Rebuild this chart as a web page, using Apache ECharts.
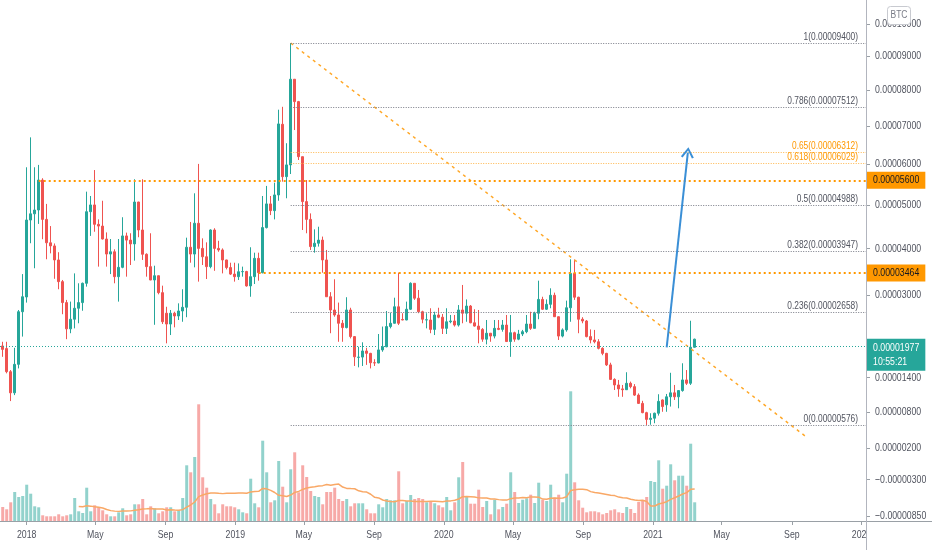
<!DOCTYPE html>
<html><head><meta charset="utf-8">
<script src="https://cdn.jsdelivr.net/npm/echarts@6/dist/echarts.min.js"></script>
<style>html,body{margin:0;padding:0;background:#fff}#c{width:932px;height:550px}</style>
</head><body><div id="c"></div>
<script>
// Weekly candles, prices in satoshi (1e-8 BTC)
const firstWeek = '2017-11-20';
const open = [1990,1940,1510,1130,1645,2660,2960,4645,4790,4880,
5605,4660,4125,4055,3745,3280,2845,2320,2510,2730,
2845,3245,4840,5000,4545,4505,4210,3875,3925,3385,
3585,4280,4185,4100,5070,4415,3870,3600,3315,3405,
3050,2630,2415,2630,2575,2675,2750,4025,3875,4570,
4000,3815,3600,4415,4000,3965,3745,3580,3440,3385,
3490,3495,3190,3385,3780,3470,4470,5025,4865,5240,
7050,5690,5985,8315,7675,6195,5080,4660,4040,4115,
4185,3745,2965,2695,2595,2430,2345,2695,2170,1775,
1780,1895,1850,1675,1670,1915,1975,2365,2430,2760,
2505,2495,2710,3245,2935,2660,2495,2495,2310,2595,
2550,2330,2460,2475,2395,2695,2630,2775,2440,2375,
2310,2120,2235,2180,2330,2310,2395,2075,2245,2120,
2220,2265,2415,2330,2630,2910,2710,2810,2995,2560,
2180,2300,2740,3455,2955,2510,2475,2170,2105,2070,
1945,1850,1635,1370,1270,1200,1185,1300,1240,1090,
945,785,670,690,775,1005,920,1060,1130,1060,
1170,1360,1300,1965];
const close = [1925,1510,1130,1645,2660,2965,4645,4790,4880,5605,
4660,4125,4055,3745,3280,2845,2320,2510,2730,2845,
3245,4840,5000,4545,4505,4210,3875,3925,3385,3585,
4280,4185,4100,5070,4415,3870,3600,3315,3405,3050,
2460,2415,2630,2575,2675,2750,4025,3875,4570,4000,
3815,3600,4415,4000,3965,3745,3580,3440,3385,3490,
3495,3190,3385,3780,3470,4470,5025,4865,5240,7060,
5690,5985,8315,7675,6195,5080,4660,4040,4115,4185,
3745,2965,2695,2595,2430,2345,2695,2170,1785,1780,
1895,1850,1675,1670,1915,1975,2365,2430,2760,2430,
2495,2710,3245,2935,2660,2510,2500,2310,2595,2550,
2330,2460,2475,2395,2695,2630,2775,2440,2375,2310,
2120,2235,2180,2330,2310,2395,2075,2245,2120,2220,
2265,2415,2330,2630,2910,2710,2810,2995,2560,2180,
2300,2740,3455,2955,2510,2475,2170,2105,2070,1945,
1850,1635,1370,1270,1200,1185,1300,1240,1090,945,
785,670,690,775,980,890,1060,1130,1060,1170,
1360,1300,1965,2120];
const low = [1785,1480,985,1090,1570,2170,2845,4115,3565,4555,
4205,3760,3890,3340,3120,2610,2120,2235,2330,2430,
2680,3175,4280,4375,3600,4200,3600,3440,3245,2865,
3565,3385,3635,3730,4250,3745,3385,3310,2400,3015,
2415,2040,2200,2350,2495,2460,2550,3685,3585,3280,
3635,3335,3565,3510,3925,3455,3540,3420,3280,3315,
3385,3175,2965,3230,3300,3455,4450,4760,4660,5100,
5565,5160,5755,6895,6110,4415,4340,3965,3905,4040,
3470,2960,2235,2560,2070,2070,2330,2135,1615,1590,
1615,1635,1570,1615,1665,1880,1965,2330,2425,2395,
2490,2490,2695,2900,2630,2430,2330,2235,2200,2530,
2220,2220,2430,2365,2365,2430,2460,2430,2365,2040,
2070,2020,2070,2135,2295,2265,2065,1785,2070,2100,
2180,2235,2300,2330,2510,2695,2695,2730,2555,2105,
2155,2265,2460,2900,2235,2430,2155,2040,2040,1925,
1815,1615,1360,1180,1060,1060,1180,1210,1075,935,
775,576,580,605,735,800,800,890,1005,860,
1150,1270,1270,1960];
const high = [2070,2070,1540,1955,2695,3440,5925,6700,5925,5985,
5650,5025,4505,4110,3915,3315,2900,2865,3455,3245,
3260,5320,5215,5855,4660,5100,4360,4210,3980,4210,
4710,4355,4340,5625,5075,5625,3890,4340,3620,3410,
3195,2760,2695,2660,2830,3120,4240,4600,5280,6010,
4225,4135,4430,4455,4170,4000,3750,3685,3685,3670,
3600,3510,4025,3905,3905,5215,5460,5215,5540,7450,
7530,6545,9400,8320,7695,6195,5605,4800,4430,4490,
4265,3965,3060,3330,2845,2495,2955,2740,2180,1975,
2060,1955,1860,1740,2220,2365,2675,2640,2945,3470,
2630,2865,3265,3250,3105,2680,2630,2730,2660,2740,
2615,2730,2595,2595,2795,3210,2910,2795,2710,2695,
2335,2495,2240,2495,2495,2495,2595,2595,2265,2300,
2300,2595,2660,2660,3300,2965,2910,3140,3050,2565,
2330,2885,3760,3755,2965,2550,2495,2310,2300,2120,
1965,1860,1675,1390,1360,1270,1500,1330,1285,1120,
990,800,775,785,1105,1015,1110,1490,1270,1180,
1665,1540,2480,2130];
// weekly volume (relative units)
const volume = [14,11.7,18.7,29,24,25,36.3,27.3,14.7,13.7,
5.7,4.7,4.7,4.7,6.7,4.7,5.7,6.7,23,9.7,
8,33.3,9.7,15.7,14,10.7,6.7,4.7,4.7,8.7,
12.7,5.7,6.7,16.7,16.7,22,6.7,14.7,12.7,7.7,
9.7,13.7,13.7,9.7,10.7,23,55.7,48.7,64,116.7,
43.7,33.3,22,16.7,7.7,16.7,14.7,14.7,13.7,11.7,
8.7,7.7,42.3,17.7,13.7,80.3,48.7,18.7,20.7,60,
34.3,18.7,51.7,68.7,28.7,55.7,44,30,25,24,
16.7,29,29,33.3,22,20,22,14.7,17.7,17.7,
17.7,11.7,7.7,7.7,16.7,13.7,22,20.7,20.7,49.7,
17.7,20,26,22,23,22,18.7,20,17.7,15.7,
13.7,24,10.7,18.7,43.7,59,24,17.3,17.3,31.3,
14,20,6.7,21.3,11.7,14,17.3,48.7,29,18,
21.3,22.7,26.3,18,38.3,21.3,20,36.3,23.3,26.3,
18.7,47.3,129.7,38.7,20.7,13.3,8.7,9.7,9.7,8.7,
6.7,8,10.7,11.7,8.7,8,14,12,8,19,
20,24,40,39,60.7,32.3,35.3,56.7,40.7,45.3,
45.3,35.3,77.3,18.7];
const priceTicks = [10000,9000,8000,7000,6000,5000,4000,3000,1400,800,200,-300,-850];
const xTicks = ['2018-01-01','2018-05-01','2018-09-01','2019-01-01','2019-05-01','2019-09-01',
  '2020-01-01','2020-05-01','2020-09-01','2021-01-01','2021-05-01','2021-09-01','2022-01-01'];
const xTickLabels = ['2018','May','Sep','2019','May','Sep','2020','May','Sep','2021','May','Sep','2022'];
const fibStart = '2019-04-08';
const fibLevels = [1, 0.786, 0.65, 0.618, 0.5, 0.382, 0.236, 0];
const fibPrices = [9400, 7512, 6312, 6029, 4988, 3947, 2658, 576];
const levelPrices = [5600, 3464];
const levelStarts = ['2018-01-22', '2019-02-11'];
const lastPrice = 1977;
const countdown = '10:55:21';
const trendLine = [['2019-04-08', 9400], ['2021-09-29', 358]];
const arrowLine = [['2021-01-25', 1964], ['2021-03-03', 6300]];

// price scale used by the reference (shifted logarithmic)
const C = 10000;
const T = p => Math.log(p + C);
const DAY = 86400000;
const toT = s => Date.parse(s + 'T00:00:00Z');
const t0 = toT(firstWeek);
const times = open.map((_, i) => t0 + i * 7 * DAY);
const xMin = Date.UTC(2017, 10, 15, 6), xMax = Date.UTC(2022, 0, 8, 19);
const yMin = -920, yMax = 10771;
const FONT = "'Liberation Sans','Roboto',sans-serif";
const SX = 0.76; // narrow text like the reference
const fmt = p => (p < 0 ? '\u2212' : '') + (Math.abs(p) / 1e8).toFixed(8);

const UP = '#26a69a', DOWN = '#ef5350';
const candles = times.map((t, i) => [t, T(open[i]), T(close[i]), T(low[i]), T(high[i])]);
const vols = times.map((t, i) => ({value: [t, volume[i]], itemStyle: {color: close[i] >= open[i] ? '#92d2cc' : '#f7a9a7'}}));
const ma = [];
for (let i = 19; i < volume.length; i++) {
  let s = 0; for (let j = i - 19; j <= i; j++) s += volume[j];
  ma.push([times[i], s / 20]);
}

const marks = [];
fibLevels.forEach((lv, i) => {
  const orange = (lv === 0.65 || lv === 0.618);
  marks.push([{coord: [toT(fibStart), T(fibPrices[i])],
    lineStyle: {color: orange ? '#ffb74d' : '#787b86', width: 1, type: [1, 1.5]}},
    {coord: [xMax, T(fibPrices[i])]}]);
});
levelPrices.forEach((p, i) => {
  marks.push([{coord: [toT(levelStarts[i]), T(p)],
    lineStyle: {color: '#ff9800', width: 2, type: [2, 3]}},
    {coord: [xMax, T(p)]}]);
});
marks.push([{coord: [xMin, T(lastPrice)], lineStyle: {color: UP, width: 1, type: [1, 2]}},
  {coord: [xMax, T(lastPrice)]}]);

const chart = echarts.init(document.getElementById('c'), null, {renderer: 'canvas'});
const gridOpt = {left: 0, right: 66, top: 0, bottom: 29, outerBoundsMode: 'none', containLabel: false};
chart.setOption({
  animation: false,
  backgroundColor: '#fff',
  grid: [Object.assign({}, gridOpt), Object.assign({}, gridOpt)],
  xAxis: [{
    type: 'value', min: xMin, max: xMax, gridIndex: 0, scale: true,
    axisLine: {show: false}, splitLine: {show: false},
    axisTick: {show: true, length: 4, lineStyle: {color: '#9aa0a6'}, customValues: xTicks.map(toT)},
    axisLabel: {show: false}
  }, {
    type: 'value', min: xMin, max: xMax, gridIndex: 1, show: false, scale: true
  }],
  yAxis: [{
    type: 'value', position: 'right', min: T(yMin), max: T(yMax), gridIndex: 0, scale: true,
    axisLine: {show: false}, splitLine: {show: false},
    axisTick: {show: true, length: 4, lineStyle: {color: '#9aa0a6'}, customValues: priceTicks.map(T)},
    axisLabel: {show: false}
  }, {
    type: 'value', min: 0, max: 521, gridIndex: 1, show: false
  }],
  series: [{
    type: 'bar', xAxisIndex: 1, yAxisIndex: 1, data: vols, barWidth: 3, silent: true, z: 1
  }, {
    type: 'line', xAxisIndex: 1, yAxisIndex: 1, data: ma, showSymbol: false, silent: true, z: 2,
    lineStyle: {color: '#f9a866', width: 1.5}
  }, {
    type: 'candlestick', xAxisIndex: 0, yAxisIndex: 0, data: candles, barWidth: 2, silent: true, z: 3,
    itemStyle: {color: UP, color0: DOWN, borderColor: UP, borderColor0: DOWN, borderWidth: 1},
    markLine: {symbol: ['none', 'none'], silent: true, animation: false, label: {show: false}, data: marks}
  }, {
    type: 'line', xAxisIndex: 0, yAxisIndex: 0, silent: true, z: 4, showSymbol: false,
    data: trendLine.map(d => [toT(d[0]), T(d[1])]),
    lineStyle: {color: '#ffa726', width: 1.5, type: [3, 4]},
    markLine: {silent: true, animation: false,
      symbol: ['none', 'path://M0,9 L5,0 L10,9 L8.6,10 L5,3 L1.4,10 Z'], symbolSize: [13, 11],
      label: {show: false},
      lineStyle: {color: '#3a8fd6', width: 2, type: 'solid'},
      data: [[{coord: [toT(arrowLine[0][0]), T(arrowLine[0][1])]}, {coord: [toT(arrowLine[1][0]), T(arrowLine[1][1])]}]]}
  }]
});

// Text labels placed through the chart's own scales
const axisX = chart.convertToPixel({xAxisIndex: 0}, xMax);
const baseY = chart.convertToPixel({yAxisIndex: 0}, T(yMin));
const yPx = p => chart.convertToPixel({yAxisIndex: 0}, T(p));
const xPx = t => chart.convertToPixel({xAxisIndex: 0}, t);
const txt = (x, y, text, opt) => Object.assign({type: 'text', x, y, scaleX: SX, z: 60, silent: true,
  style: Object.assign({text, font: '11.5px ' + FONT, fill: '#50535e', align: 'left', verticalAlign: 'middle'}, opt || {})});
const g = [];
priceTicks.forEach(p => g.push(txt(axisX + 9, yPx(p), fmt(p))));
xTicks.forEach((s, i) => g.push(txt(xPx(toT(s)), baseY + 14, xTickLabels[i], {align: 'center'})));
fibLevels.forEach((lv, i) => {
  const orange = (lv === 0.65 || lv === 0.618);
  g.push(txt(axisX - 8, yPx(fibPrices[i]) - 0.5, lv + '(' + fmt(fibPrices[i]) + ')',
    {align: 'right', verticalAlign: 'bottom', font: '11px ' + FONT, fill: orange ? '#ff9800' : '#50535e'}));
});
levelPrices.forEach(p => {
  const e = txt(axisX + 1, yPx(p), fmt(p), {fill: '#131722', backgroundColor: '#ff9800', padding: [3, 8, 2, 8]});
  e.z = 70; g.push(e);
});
const lp = txt(axisX + 1, yPx(lastPrice) + 8, fmt(lastPrice) + '\n' + countdown,
  {fill: '#fff', backgroundColor: UP, padding: [2, 8, 1, 8], lineHeight: 14.5});
lp.z = 70; g.push(lp);
g.push({type: 'rect', z: 100, silent: true, shape: {x: axisX + 1, y: baseY + 1, width: 932 - axisX, height: 550 - baseY}, style: {fill: '#fff'}});
g.push({type: 'line', z: 101, silent: true, shape: {x1: 0, y1: baseY + 0.5, x2: 932, y2: baseY + 0.5}, style: {stroke: '#9aa0a6', lineWidth: 1}});
g.push({type: 'line', z: 101, silent: true, shape: {x1: axisX + 0.5, y1: 0, x2: axisX + 0.5, y2: 550}, style: {stroke: '#b2b5be', lineWidth: 1}});
g.push({type: 'rect', z: 102, silent: true, shape: {x: axisX + 21.5, y: 6.5, width: 23, height: 18, r: 3}, style: {fill: '#fff', stroke: '#c8cad0', lineWidth: 1}});
g.push({type: 'text', z: 103, silent: true, x: axisX + 33, y: 15.5, scaleX: 0.85,
  style: {text: 'BTC', fill: '#787b86', font: '10px ' + FONT, align: 'center', verticalAlign: 'middle'}});
chart.setOption({graphic: g});
</script></body></html>
